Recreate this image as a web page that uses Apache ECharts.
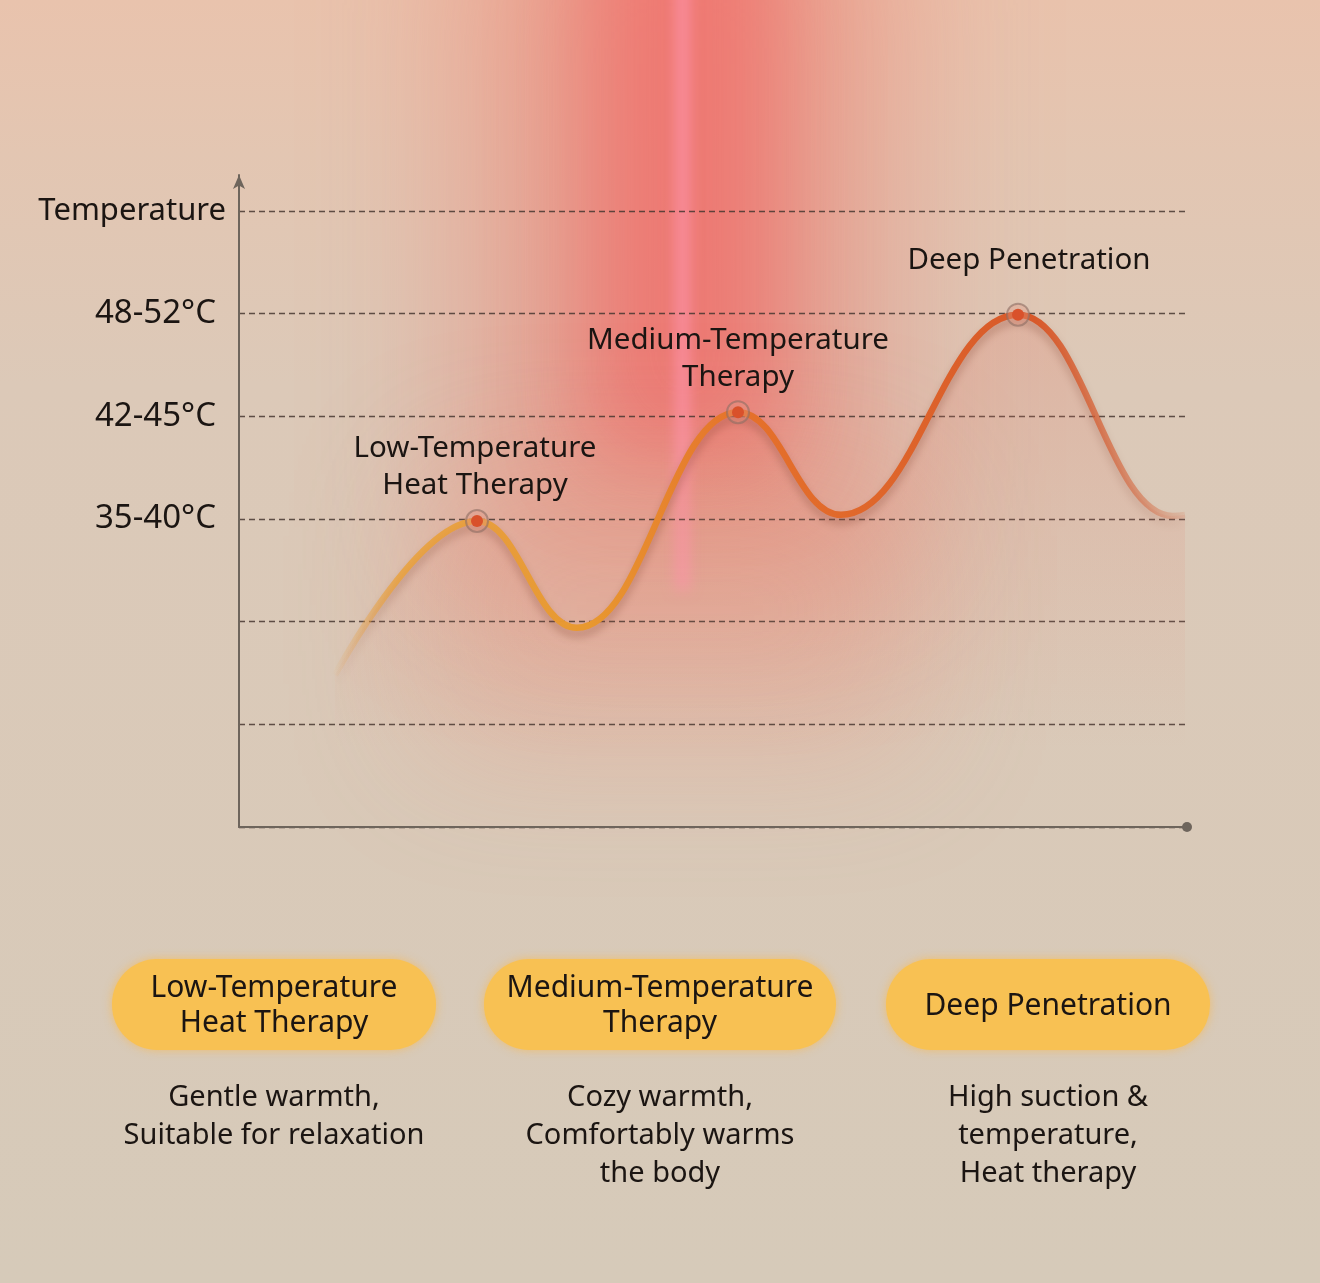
<!DOCTYPE html>
<html>
<head>
<meta charset="utf-8">
<script src="https://cdn.jsdelivr.net/npm/echarts@6/dist/echarts.min.js"></script>
<style>
html,body{margin:0;padding:0;background:#d8cab9;}
#c{width:1320px;height:1283px;}
</style>
</head>
<body>
<div id="c"></div>
<script>
// ---- data ----
const yLevels = [0, 1, 2, 3, 4, 5, 6];
const yTickLabels = ['', '', '', '35-40°C', '42-45°C', '48-52°C', 'Temperature'];
const curveX = [96, 238, 338, 499, 602, 779, 934, 946];
const curveY = [1.48, 2.98, 1.94, 4.04, 3.04, 4.99, 3.03, 3.04];
const peakX = [238, 499, 779];
const peakY = [2.98, 4.04, 4.99];
const peakNames = ['Low-Temperature\nHeat Therapy', 'Medium-Temperature\nTherapy', 'Deep Penetration'];
const phaseNames = ['Low-Temperature\nHeat Therapy', 'Medium-Temperature\nTherapy', 'Deep Penetration'];
const phaseDescriptions = ['Gentle warmth,\nSuitable for relaxation', 'Cozy warmth,\nComfortably warms\nthe body', 'High suction &\ntemperature,\nHeat therapy'];

// ---- styling / layout ----
const FONT = '"Noto Sans", "Open Sans", sans-serif';
const TEXT = '#1b1512';
const OFF = 4000;
const peakLabelDist = [11, 10, 30];
const peakLabelOffset = [[-2, 0], [0, 0], [11, 0]];
const pillCenters = [274, 660, 1048];
const pillWidths = [324, 352, 324];

function glow(x, y, w, h, blur, color, z) {
  return {
    type: 'rect', silent: true, z: z || -50,
    shape: { x: x - OFF, y: y, width: w, height: h },
    style: { fill: '#000', shadowBlur: blur, shadowColor: color, shadowOffsetX: OFF }
  };
}

const graphics = [
  glow(470, -400, 420, 980, 160, 'rgba(236,118,105,0.48)'),
  glow(590, -300, 190, 760, 90, 'rgba(242,96,96,0.6)'),
  glow(430, 470, 480, 280, 140, 'rgba(236,140,120,0.30)'),
  glow(676, -50, 13, 640, 14, 'rgba(255,150,175,0.75)')
];

phaseNames.forEach((name, i) => {
  const cx = pillCenters[i], w = pillWidths[i];
  graphics.push({
    type: 'rect', silent: true, z: 10,
    shape: { x: cx - w / 2, y: 959, width: w, height: 91, r: 45 },
    style: { fill: '#f8c153', shadowBlur: 10, shadowColor: 'rgba(248,185,80,0.7)' }
  });
  graphics.push({
    type: 'text', silent: true, z: 11,
    x: cx, y: 1006,
    style: { text: name, fontSize: 30, fontFamily: FONT, fill: TEXT, align: 'center', verticalAlign: 'middle', lineHeight: 35 }
  });
  graphics.push({
    type: 'text', silent: true, z: 11,
    x: cx, y: 1079,
    style: { text: phaseDescriptions[i], fontSize: 29, fontFamily: FONT, fill: TEXT, align: 'center', verticalAlign: 'top', lineHeight: 38 }
  });
});

const chart = echarts.init(document.getElementById('c'), null, { renderer: 'canvas' });

const gridColors = yLevels.map(() => 'rgba(70,55,48,0.85)');
gridColors.push('rgba(0,0,0,0)');

chart.setOption({
  backgroundColor: new echarts.graphic.LinearGradient(0, 0, 0, 1, [
    { offset: 0, color: '#e9c3ad' },
    { offset: 0.12, color: '#e3c6b2' },
    { offset: 0.3, color: '#dcc9b8' },
    { offset: 1, color: '#d6cab9' }
  ]),
  animation: false,
  textStyle: { fontFamily: FONT },
  grid: { left: 239, right: 133, top: 175, bottom: 456, containLabel: false },
  xAxis: {
    type: 'value', min: 0, max: 948,
    axisLine: { show: true, symbol: ['none', 'circle'], symbolSize: [10, 10], lineStyle: { color: '#6e655c', width: 2 } },
    axisTick: { show: false }, axisLabel: { show: false }, splitLine: { show: false }
  },
  yAxis: {
    type: 'value', min: 0, max: 6.35, interval: 1,
    axisLine: { show: true, symbol: ['none', 'arrow'], symbolSize: [9, 14], lineStyle: { color: '#6e655c', width: 2 } },
    axisTick: { show: false },
    splitLine: { show: true, lineStyle: { color: gridColors, width: 1.3, type: [6, 4] } },
    axisLabel: {
      margin: 13,
      formatter: v => {
        const i = yLevels.indexOf(v);
        if (i < 0 || !yTickLabels[i]) return '';
        return i === 6 ? '{t|' + yTickLabels[i] + '}' : '{v|' + yTickLabels[i] + '}';
      },
      rich: {
        t: { fontSize: 31, color: TEXT, fontFamily: FONT },
        v: { fontSize: 33, color: TEXT, fontFamily: FONT, padding: [0, 10, 0, 0] }
      }
    }
  },
  graphic: graphics,
  series: [
    {
      type: 'line', z: 3,
      data: curveX.map((x, i) => [x, curveY[i]]),
      smooth: 0.42, smoothMonotone: 'x', showSymbol: false, silent: true,
      lineStyle: {
        width: 6.5,
        color: new echarts.graphic.LinearGradient(0, 0, 1, 0, [
          { offset: 0, color: 'rgba(234,160,62,0)' },
          { offset: 0.08, color: 'rgba(234,162,60,0.85)' },
          { offset: 0.3, color: '#e8982f' },
          { offset: 0.48, color: '#e5712b' },
          { offset: 0.82, color: '#d8592a' },
          { offset: 0.95, color: 'rgba(214,90,45,0.45)' },
          { offset: 1, color: 'rgba(214,90,45,0.1)' }
        ]),
        shadowColor: 'rgba(120,60,40,0.35)', shadowBlur: 8, shadowOffsetY: 6
      },
      areaStyle: {
        color: new echarts.graphic.LinearGradient(0, 0, 0, 1, [
          { offset: 0, color: 'rgba(226,112,92,0.32)' },
          { offset: 0.55, color: 'rgba(226,120,100,0.12)' },
          { offset: 0.85, color: 'rgba(226,120,100,0)' }
        ])
      }
    },
    {
      type: 'scatter', z: 4, silent: true,
      symbolSize: 22,
      itemStyle: { color: 'rgba(225,150,130,0.35)', borderColor: 'rgba(140,110,100,0.6)', borderWidth: 2, opacity: 1 },
      data: peakX.map((x, i) => [x, peakY[i]])
    },
    {
      type: 'scatter', z: 5, silent: true,
      symbolSize: 12,
      itemStyle: { color: '#d9512b', opacity: 1 },
      data: peakX.map((x, i) => ({
        value: [x, peakY[i]],
        label: { distance: peakLabelDist[i], offset: peakLabelOffset[i] }
      })),
      label: {
        show: true, position: 'top', opacity: 1,
        formatter: p => peakNames[p.dataIndex],
        fontSize: 29.5, lineHeight: 37, color: TEXT, fontFamily: FONT, align: 'center'
      }
    }
  ]
});
</script>
</body>
</html>
